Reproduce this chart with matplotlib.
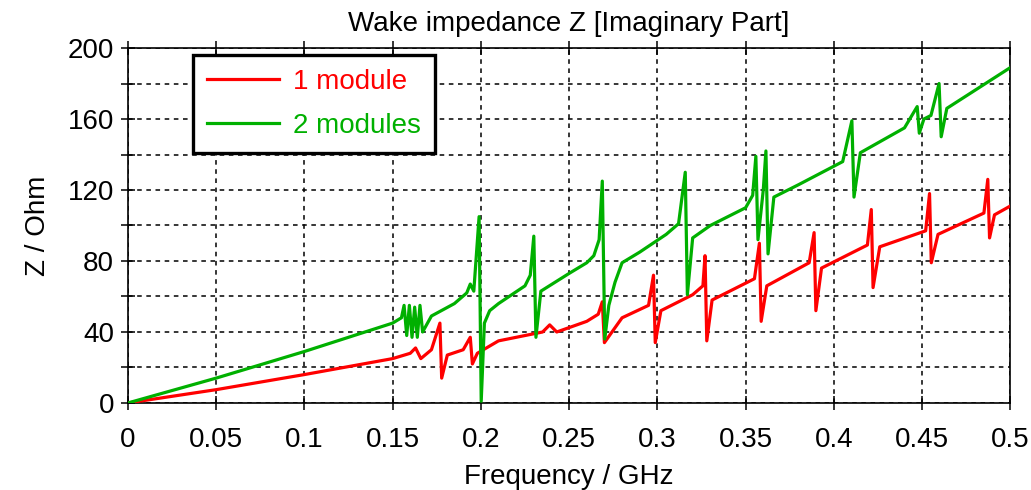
import numpy as np
import matplotlib
matplotlib.use("Agg")
import matplotlib.pyplot as plt
from matplotlib.ticker import MultipleLocator, FuncFormatter

plt.rcParams['font.family'] = ['Liberation Sans', 'DejaVu Sans']

# ---- data ----
red_f = [0, 0.05, 0.1, 0.15, 0.160, 0.163, 0.166, 0.172, 0.1768, 0.1778, 0.181,
         0.19, 0.1940, 0.1952, 0.198, 0.21, 0.235, 0.239, 0.243, 0.26, 0.2665,
         0.2688, 0.2700, 0.28, 0.295, 0.2978, 0.2988, 0.302, 0.32, 0.3258, 0.3270,
         0.3280, 0.331, 0.355, 0.3578, 0.3588, 0.362, 0.386, 0.3888, 0.3898, 0.393,
         0.419, 0.4212, 0.4222, 0.426, 0.452, 0.4542, 0.4552, 0.459, 0.485, 0.4872,
         0.4882, 0.491, 0.5]
red_z = [0, 7.5, 16, 25, 28, 31, 25, 30, 45, 14, 27,
         30, 37, 22, 28, 35, 40, 44, 40, 46, 50,
         57, 34, 48, 55, 72, 34, 52, 61, 66, 83,
         35, 58, 70, 90, 46, 66, 79, 96, 52, 76,
         89, 109, 65, 88, 97, 118, 79, 95, 107, 126,
         93, 106, 111]

green_f = [0, 0.05, 0.1, 0.15, 0.155, 0.1565, 0.1580, 0.1595, 0.161, 0.1625, 0.1640,
           0.1655, 0.167, 0.172, 0.185, 0.192, 0.194, 0.196, 0.1990, 0.2002, 0.202,
           0.205, 0.21, 0.225, 0.228, 0.2300, 0.2312, 0.234, 0.25, 0.26, 0.264, 0.267,
           0.2688, 0.2702, 0.2725, 0.276, 0.28, 0.29, 0.305, 0.312, 0.3158, 0.3170,
           0.320, 0.33, 0.35, 0.354, 0.3558, 0.3570, 0.3600, 0.3615, 0.3627, 0.366,
           0.38, 0.405, 0.4102, 0.4114, 0.415, 0.44, 0.4472, 0.4484, 0.451, 0.455,
           0.4596, 0.4608, 0.464, 0.5]
green_z = [0, 14, 29, 45, 48, 55, 38, 55, 37, 54, 37,
           55, 40, 49, 56, 62, 67, 63, 105, 1, 45,
           52, 56, 66, 72, 94, 37, 63, 73, 79, 83, 92,
           125, 36, 55, 68, 79, 85, 95, 101, 130, 61,
           93, 100, 110, 117, 139, 92, 120, 142, 84, 116,
           123, 136, 159, 116, 141, 155, 167, 152, 160, 162,
           180, 150, 166, 189]

labels = ["1 module", "2 modules"]
title = "Wake impedance Z [Imaginary Part]"

fig = plt.figure(figsize=(10.31, 4.90), dpi=100)
ax = fig.add_axes([0.124, 0.1776, 0.856, 0.7244])

ax.plot(red_f, red_z, color='#ff0000', lw=2.3, label=labels[0], zorder=3)
ax.plot(green_f, green_z, color='#00b000', lw=2.3, label=labels[1], zorder=4)

ax.set_xlim(0, 0.5)
ax.set_ylim(0, 200)
ax.xaxis.set_major_locator(MultipleLocator(0.05))
ax.xaxis.set_major_formatter(FuncFormatter(lambda v, p: f"{round(v, 3):g}"))
ax.yaxis.set_major_locator(MultipleLocator(40))
ax.yaxis.set_minor_locator(MultipleLocator(20))

ax.grid(True, which='both', color='black', linestyle=(0, (3, 3)), lw=1.1)
ax.set_axisbelow(True)

ax.tick_params(axis='both', which='both', direction='inout', labelsize=20,
               width=1.1, color='black')
ax.tick_params(axis='x', which='major', length=10, top=True, pad=12)
ax.tick_params(axis='y', which='both', length=10, pad=5)
for s in ax.spines.values():
    s.set_linewidth(1.2)

ax.set_title(title, fontsize=20, pad=12)
ax.set_xlabel("Frequency / GHz", fontsize=20, labelpad=8)
ax.set_ylabel("Z / Ohm", fontsize=20, labelpad=12)

leg = ax.legend(loc='upper left', bbox_to_anchor=(0.074, 0.98), fontsize=20,
                frameon=True, fancybox=False, edgecolor='black',
                handlelength=2.6, handletextpad=0.5, labelspacing=0.65,
                borderpad=0.5, borderaxespad=0)
leg.get_frame().set_linewidth(2.4)
leg.get_frame().set_alpha(1)
for t, c in zip(leg.get_texts(), ['#ff0000', '#00b000']):
    t.set_color(c)

fig.savefig("out.png", dpi=100)
